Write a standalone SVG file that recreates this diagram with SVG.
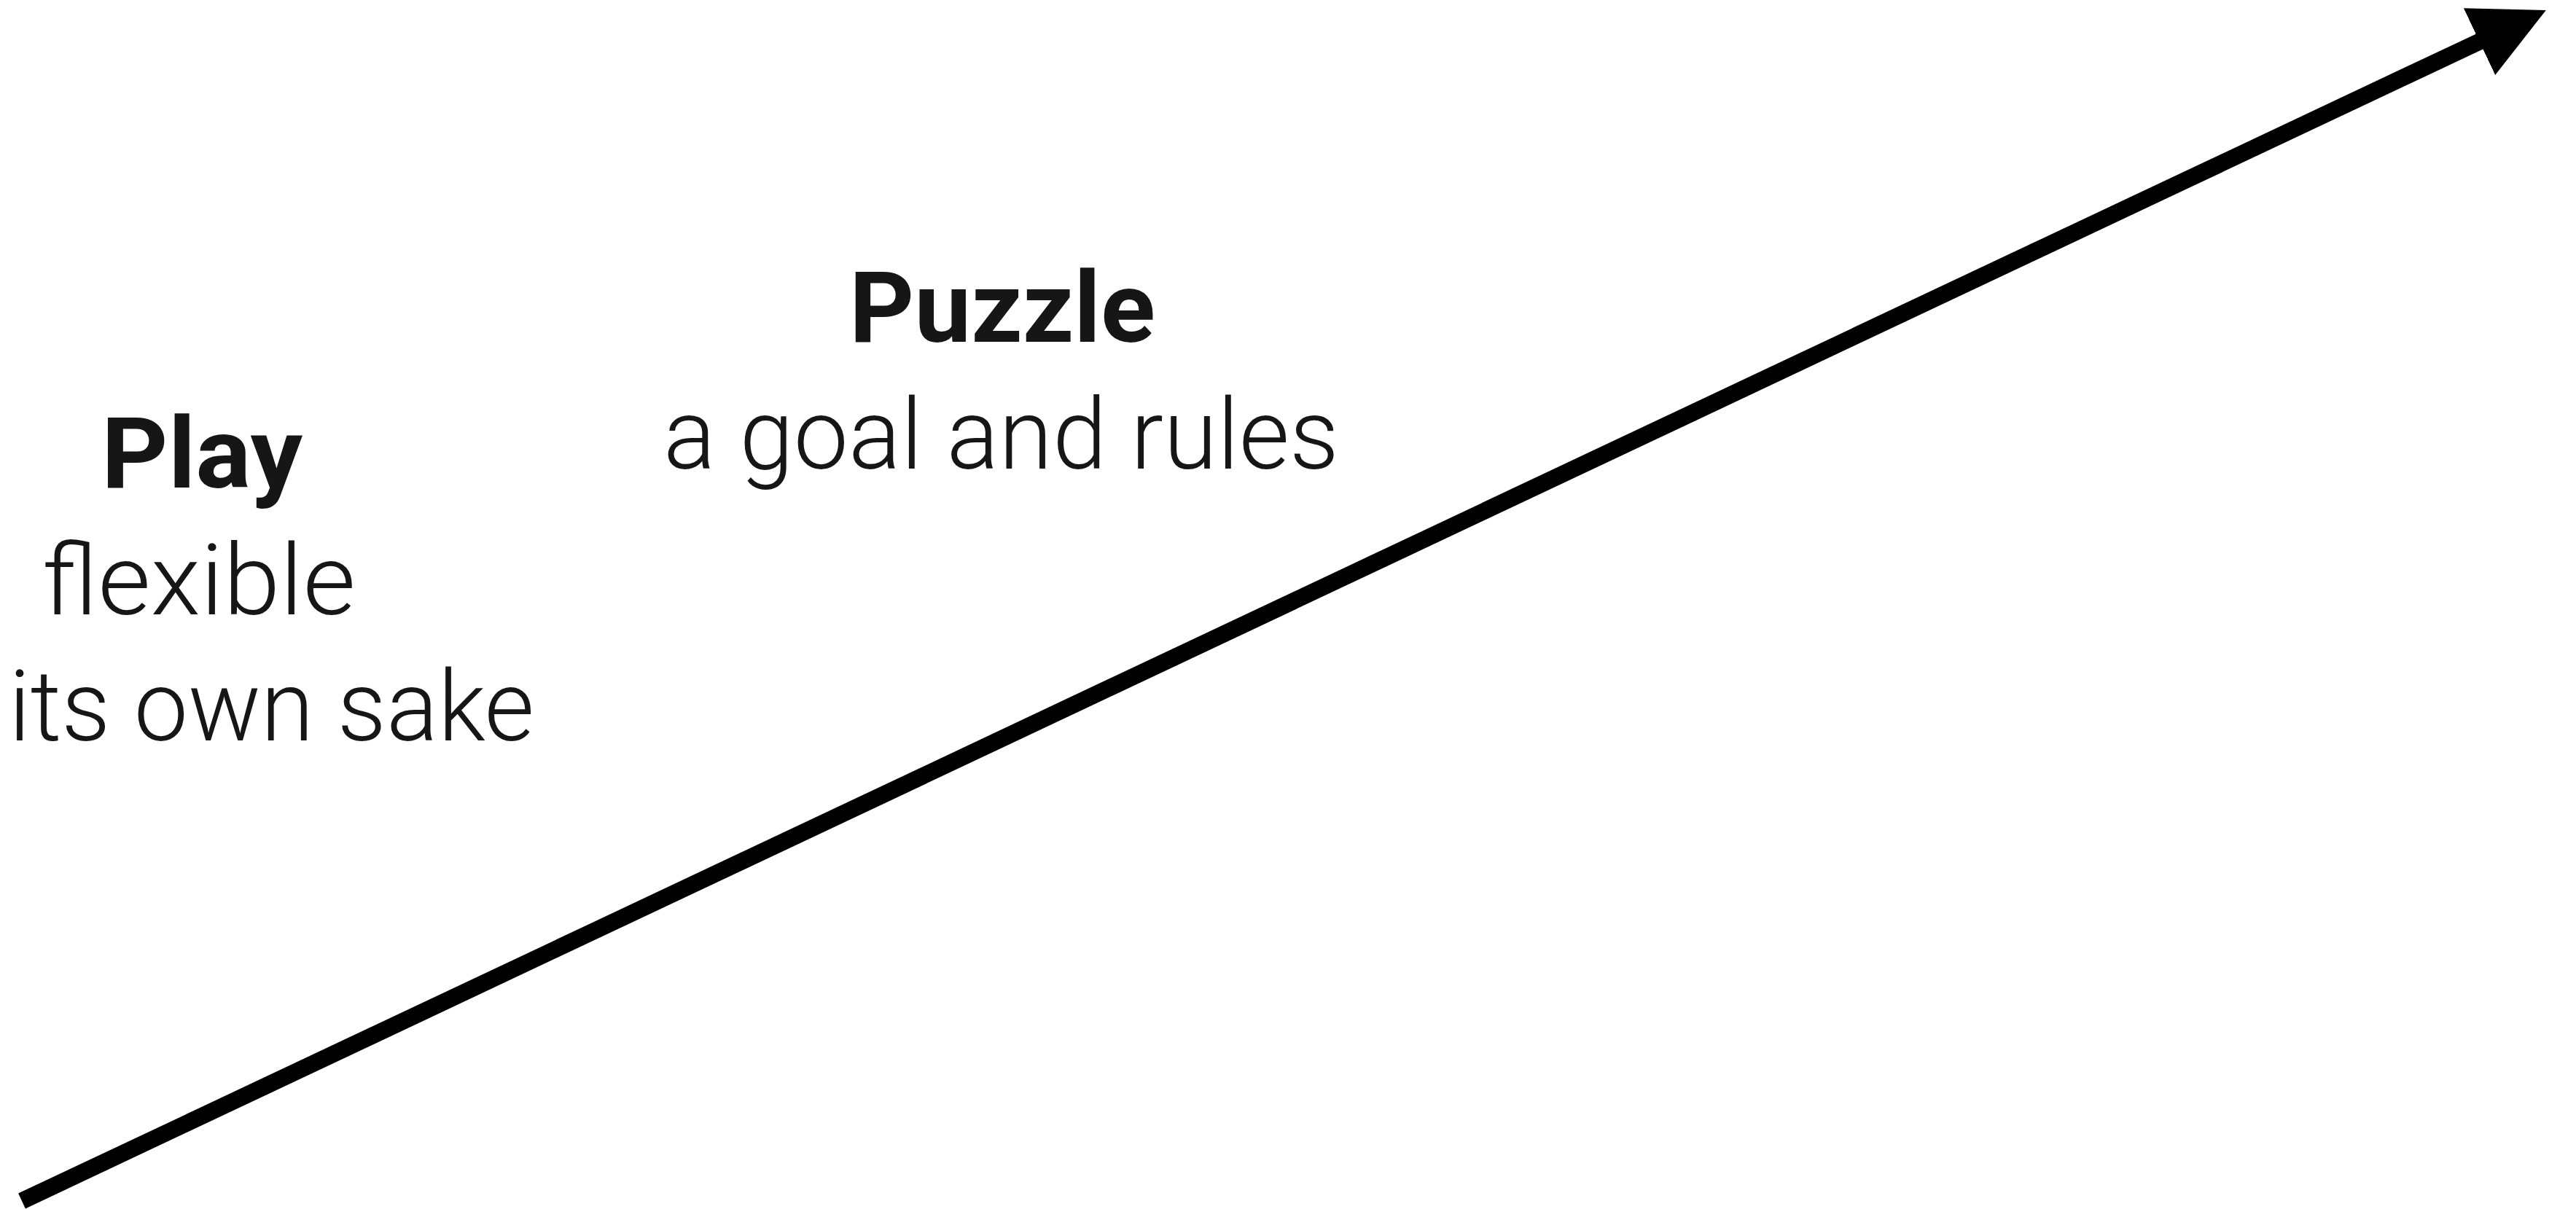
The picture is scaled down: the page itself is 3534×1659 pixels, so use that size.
<svg xmlns="http://www.w3.org/2000/svg" width="3534" height="1659" viewBox="0 0 3534 1659">
  <style>
    .title { font-family: Roboto, "Liberation Sans", sans-serif; font-weight: 700; font-size: 135px; fill: #161616; }
    .sub { font-family: Roboto, "Liberation Sans", sans-serif; font-weight: 300; font-size: 136px; fill: #161616; }
    .conn { stroke: #000; stroke-width: 23; fill: none; }
  </style>
  <defs>
    <marker id="arrow" markerUnits="userSpaceOnUse" markerWidth="120" markerHeight="110" viewBox="0 0 120 110" refX="10" refY="50.8" orient="auto">
      <path d="M0,0 L101,50.8 L0,101.6 z" fill="#000"/>
    </marker>
  </defs>
  <rect width="3534" height="1659" fill="#fff"/>
  <g id="connectors">
    <line class="conn" x1="30" y1="1648" x2="3410.5" y2="52.8" marker-end="url(#arrow)"/>
  </g>
  <g id="play">
    <text class="title" x="139" y="669" textLength="276" lengthAdjust="spacingAndGlyphs">Play</text>
    <text class="sub" x="58" y="843" textLength="430" lengthAdjust="spacingAndGlyphs">flexible</text>
    <text class="sub" x="12" y="1016" textLength="721" lengthAdjust="spacingAndGlyphs">its own sake</text>
  </g>
  <g id="puzzle">
    <text class="title" x="1165" y="469" textLength="420" lengthAdjust="spacingAndGlyphs">Puzzle</text>
    <text class="sub" x="910" y="643" textLength="927" lengthAdjust="spacingAndGlyphs">a goal and rules</text>
  </g>
</svg>
